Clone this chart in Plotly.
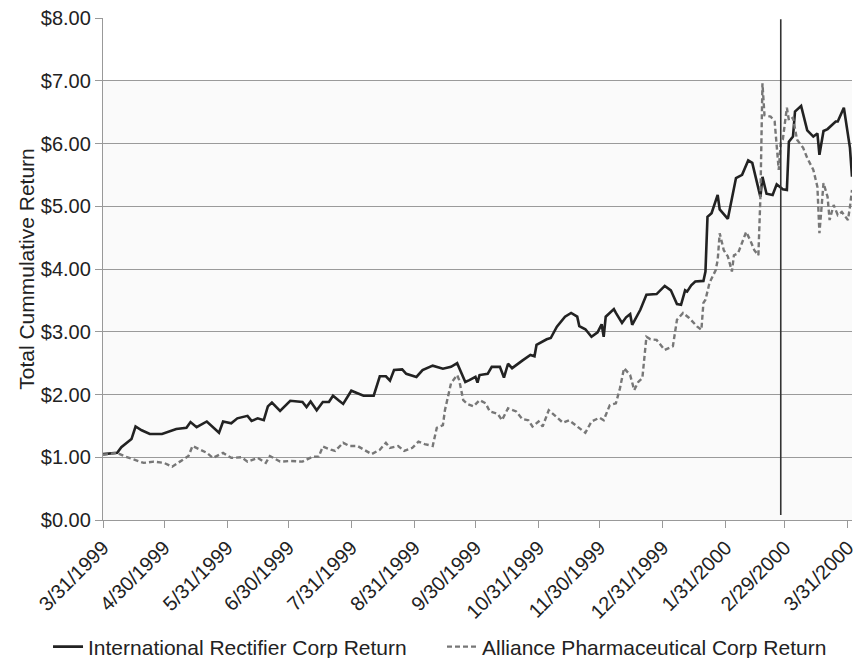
import plotly.graph_objects as go

# ---------------- data ----------------
ir_dates = [
    "1999-03-31", "1999-04-07", "1999-04-09", "1999-04-14", "1999-04-16", "1999-04-19", "1999-04-23", "1999-04-29",
    "1999-05-06", "1999-05-11", "1999-05-13", "1999-05-16", "1999-05-21", "1999-05-27", "1999-05-29",
    "1999-06-02", "1999-06-05", "1999-06-10", "1999-06-12", "1999-06-15", "1999-06-18", "1999-06-20", "1999-06-22", "1999-06-26",
    "1999-07-01", "1999-07-07", "1999-07-09", "1999-07-11", "1999-07-14", "1999-07-17", "1999-07-20", "1999-07-22", "1999-07-25", "1999-07-27", "1999-07-31",
    "1999-08-06", "1999-08-11", "1999-08-14", "1999-08-17", "1999-08-19", "1999-08-21", "1999-08-25", "1999-08-27",
    "1999-09-01", "1999-09-04", "1999-09-09", "1999-09-14", "1999-09-18", "1999-09-21", "1999-09-25", "1999-09-27", "1999-09-30",
    "1999-10-01", "1999-10-02", "1999-10-06", "1999-10-08", "1999-10-12", "1999-10-14", "1999-10-16", "1999-10-18", "1999-10-23", "1999-10-27", "1999-10-29", "1999-10-30",
    "1999-11-04", "1999-11-06", "1999-11-09", "1999-11-13", "1999-11-16", "1999-11-19", "1999-11-20", "1999-11-23", "1999-11-26", "1999-11-29",
    "1999-12-01", "1999-12-02", "1999-12-03", "1999-12-07", "1999-12-08", "1999-12-11", "1999-12-13", "1999-12-15", "1999-12-16", "1999-12-20", "1999-12-23", "1999-12-28",
    "2000-01-01", "2000-01-04", "2000-01-07", "2000-01-09", "2000-01-11", "2000-01-12", "2000-01-14", "2000-01-16", "2000-01-20", "2000-01-21", "2000-01-22", "2000-01-24", "2000-01-27", "2000-01-28",
    "2000-02-01", "2000-02-05", "2000-02-08", "2000-02-11", "2000-02-13", "2000-02-17", "2000-02-18", "2000-02-20", "2000-02-23", "2000-02-25", "2000-02-28",
    "2000-03-01", "2000-03-02", "2000-03-04", "2000-03-05", "2000-03-08", "2000-03-11", "2000-03-14", "2000-03-16", "2000-03-17", "2000-03-19", "2000-03-21", "2000-03-25", "2000-03-26", "2000-03-29", "2000-03-31",
    "2000-04-01", "2000-04-02",
]
ir_values = [
    1.05, 1.07, 1.16, 1.29, 1.49, 1.43, 1.37, 1.37,
    1.45, 1.47, 1.56, 1.48, 1.57, 1.39, 1.57,
    1.54, 1.62, 1.66, 1.58, 1.62, 1.59, 1.81, 1.87, 1.74,
    1.90, 1.88, 1.80, 1.89, 1.75, 1.88, 1.88, 1.98, 1.90, 1.85, 2.06,
    1.98, 1.98, 2.29, 2.29, 2.22, 2.39, 2.40, 2.33,
    2.28, 2.39, 2.46, 2.41, 2.44, 2.50, 2.20, 2.23, 2.28,
    2.19, 2.31, 2.33, 2.44, 2.44, 2.27, 2.49, 2.42, 2.54, 2.63, 2.61, 2.79,
    2.88, 2.90, 3.08, 3.24, 3.30, 3.24, 3.09, 3.04, 2.92, 2.99,
    3.12, 2.92, 3.24, 3.36, 3.30, 3.14, 3.23, 3.28, 3.11, 3.35, 3.59, 3.60,
    3.73, 3.66, 3.44, 3.43, 3.66, 3.64, 3.74, 3.80, 3.81, 3.96, 4.83, 4.89, 5.18, 4.95,
    4.80, 5.45, 5.50, 5.73, 5.69, 5.15, 5.47, 5.20, 5.18, 5.35, 5.27,
    5.26, 6.03, 6.11, 6.51, 6.60, 6.21, 6.11, 6.16, 5.82, 6.20, 6.23, 6.35, 6.35, 6.57, 6.09,
    5.93, 5.47,
]

ap_dates = [
    "1999-03-31", "1999-04-07", "1999-04-11", "1999-04-15", "1999-04-20", "1999-04-25", "1999-04-30",
    "1999-05-04", "1999-05-08", "1999-05-12", "1999-05-14", "1999-05-18", "1999-05-21", "1999-05-24", "1999-05-29",
    "1999-06-02", "1999-06-07", "1999-06-10", "1999-06-15", "1999-06-19", "1999-06-21", "1999-06-26",
    "1999-07-01", "1999-07-07", "1999-07-12", "1999-07-15", "1999-07-17", "1999-07-21", "1999-07-23", "1999-07-27", "1999-07-30",
    "1999-08-03", "1999-08-10", "1999-08-14", "1999-08-17", "1999-08-19", "1999-08-23", "1999-08-26", "1999-08-30",
    "1999-09-02", "1999-09-05", "1999-09-09", "1999-09-11", "1999-09-14", "1999-09-15", "1999-09-18", "1999-09-21", "1999-09-22", "1999-09-24", "1999-09-26", "1999-09-29",
    "1999-10-02", "1999-10-05", "1999-10-07", "1999-10-11", "1999-10-13", "1999-10-16", "1999-10-20", "1999-10-23", "1999-10-26", "1999-10-28", "1999-10-31",
    "1999-11-02", "1999-11-05", "1999-11-08", "1999-11-12", "1999-11-15", "1999-11-19", "1999-11-23", "1999-11-26", "1999-11-30",
    "1999-12-02", "1999-12-05", "1999-12-08", "1999-12-10", "1999-12-12", "1999-12-15", "1999-12-17", "1999-12-19", "1999-12-21", "1999-12-23", "1999-12-25", "1999-12-28",
    "2000-01-01", "2000-01-05", "2000-01-07", "2000-01-10", "2000-01-13", "2000-01-17", "2000-01-19", "2000-01-20", "2000-01-21", "2000-01-23", "2000-01-26", "2000-01-27", "2000-01-28", "2000-01-30",
    "2000-02-01", "2000-02-03", "2000-02-04", "2000-02-06", "2000-02-10", "2000-02-12", "2000-02-14", "2000-02-16", "2000-02-17", "2000-02-18", "2000-02-19", "2000-02-22", "2000-02-24", "2000-02-25", "2000-02-26", "2000-02-27", "2000-02-28",
    "2000-03-01", "2000-03-02", "2000-03-04", "2000-03-06", "2000-03-09", "2000-03-11", "2000-03-14", "2000-03-16", "2000-03-17", "2000-03-18", "2000-03-19", "2000-03-21", "2000-03-22", "2000-03-24", "2000-03-26", "2000-03-28", "2000-03-31",
    "2000-04-01", "2000-04-02",
]
ap_values = [
    1.04, 1.07, 1.01, 0.96, 0.91, 0.93, 0.91,
    0.85, 0.93, 1.02, 1.18, 1.12, 1.07, 0.99, 1.07,
    0.99, 1.00, 0.93, 0.99, 0.91, 1.02, 0.93,
    0.94, 0.93, 1.01, 1.01, 1.17, 1.12, 1.10, 1.23, 1.18,
    1.18, 1.05, 1.12, 1.23, 1.15, 1.18, 1.10, 1.15,
    1.25, 1.21, 1.18, 1.47, 1.51, 1.75, 2.18, 2.31, 2.23, 1.91, 1.85, 1.81,
    1.91, 1.86, 1.73, 1.69, 1.59, 1.78, 1.73, 1.61, 1.59, 1.49, 1.57,
    1.49, 1.75, 1.67, 1.55, 1.59, 1.49, 1.39, 1.57, 1.63,
    1.59, 1.83, 1.86, 2.10, 2.42, 2.31, 2.07, 2.20, 2.26, 2.92, 2.88, 2.87,
    2.71, 2.77, 3.19, 3.30, 3.22, 3.08, 3.03, 3.46, 3.51, 3.78, 3.98, 4.14, 4.57, 4.30,
    4.20, 3.96, 4.22, 4.25, 4.59, 4.46, 4.30, 4.22, 5.15, 6.96, 6.45, 6.43, 6.35, 6.00, 5.58, 6.01, 6.06,
    6.57, 6.37, 6.41, 6.06, 5.93, 5.77, 5.58, 5.31, 4.57, 5.05, 5.37, 5.15, 4.78, 5.02, 4.86, 4.91, 4.78,
    4.99, 5.26,
]

tick_dates = ["1999-03-31", "1999-04-30", "1999-05-31", "1999-06-30", "1999-07-31", "1999-08-31",
              "1999-09-30", "1999-10-31", "1999-11-30", "1999-12-31", "2000-01-31", "2000-02-29", "2000-03-31"]
tick_labels = ["3/31/1999", "4/30/1999", "5/31/1999", "6/30/1999", "7/31/1999", "8/31/1999",
               "9/30/1999", "10/31/1999", "11/30/1999", "12/31/1999", "1/31/2000", "2/29/2000", "3/31/2000"]
y_ticks = [0, 1, 2, 3, 4, 5, 6, 7, 8]
y_labels = ["$0.00", "$1.00", "$2.00", "$3.00", "$4.00", "$5.00", "$6.00", "$7.00", "$8.00"]
marker_date = "2000-02-27"

ir_name = "International Rectifier Corp Return"
ap_name = "Alliance Pharmaceutical Corp Return"

# ---------------- figure ----------------
FONT = "Liberation Sans, Arial, Helvetica, sans-serif"
fig = go.Figure()
fig.add_trace(go.Scatter(x=ir_dates, y=ir_values, mode="lines", name=ir_name, legend="legend",
                         line=dict(color="#222222", width=2.6)))
fig.add_trace(go.Scatter(x=ap_dates, y=ap_values, mode="lines", name=ap_name, legend="legend2",
                         line=dict(color="#777777", width=2.4, dash="5px,3px")))

fig.add_shape(type="rect", xref="paper", yref="y", x0=0, x1=1, y0=0, y1=7,
              fillcolor="#fafafa", line=dict(width=0), layer="below")
fig.add_shape(type="line", xref="x", yref="y", x0=marker_date, x1=marker_date, y0=0.08, y1=7.98,
              line=dict(color="#333333", width=1.6))

legend_common = dict(orientation="h", yanchor="middle", y=-0.253, xanchor="left",
                     font=dict(size=21, color="#222222"), bgcolor="rgba(0,0,0,0)",
                     itemwidth=30)

fig.update_layout(
    width=857, height=658,
    margin=dict(l=103, r=5, t=18, b=138, autoexpand=False),
    paper_bgcolor="white", plot_bgcolor="white",
    font=dict(family=FONT, size=20, color="#222222"),
    showlegend=True,
    legend=dict(x=-0.0734, **legend_common),
    legend2=dict(x=0.4526, **legend_common),
    xaxis=dict(type="date", range=["1999-03-31", "2000-04-02"],
               tickmode="array", tickvals=tick_dates, ticktext=tick_labels, tickangle=-45,
               ticklabeloverflow="allow",
               ticks="outside", ticklen=7, tickcolor="#999999", tickwidth=1.3,
               showgrid=False, showline=True, linecolor="#999999", linewidth=1.3,
               zeroline=False, tickfont=dict(size=20, color="#222222")),
    yaxis=dict(range=[0, 8], tickmode="array", tickvals=y_ticks, ticktext=y_labels,
               ticks="outside", ticklen=7, tickcolor="#999999", tickwidth=1.3,
               showgrid=True, gridcolor="#9a9a9a", gridwidth=1.3,
               showline=True, linecolor="#999999", linewidth=1.3, zeroline=False,
               tickfont=dict(size=20, color="#222222"),
               title=dict(text="Total Cummulative Return", font=dict(size=21, color="#222222"), standoff=0)),
)

fig.write_html(
    "out.html",
    config={"displayModeBar": False},
    post_script="document.body.style.margin='0';document.body.style.padding='0';document.body.style.overflow='hidden';",
)
